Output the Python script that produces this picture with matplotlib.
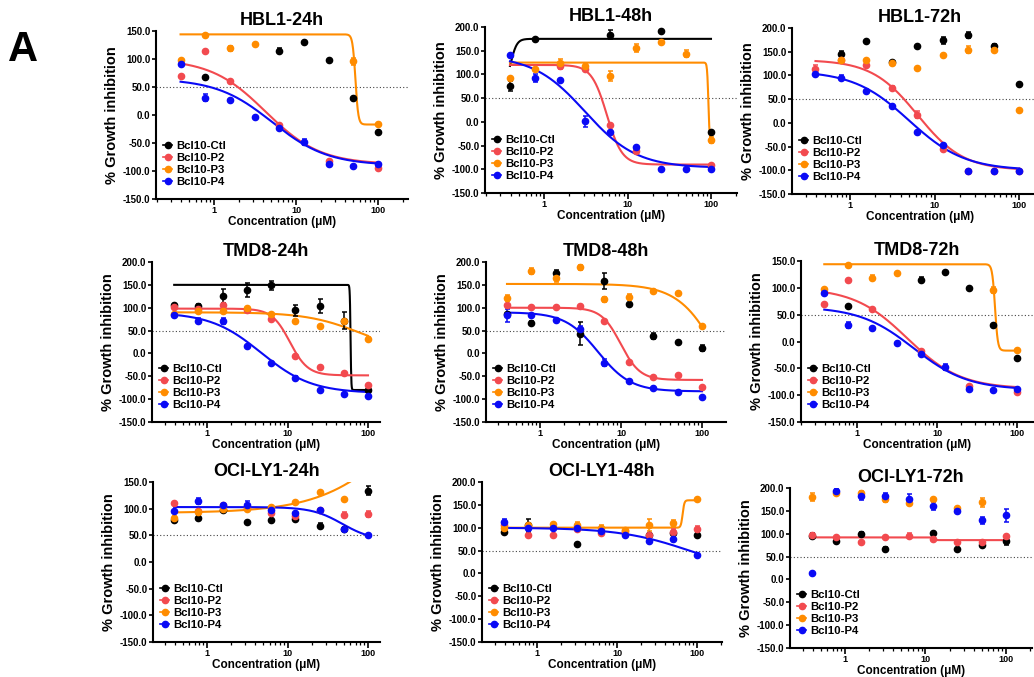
import numpy as np
import matplotlib
matplotlib.use('Agg')
from matplotlib import pyplot as plt
from matplotlib.lines import Line2D
from matplotlib.ticker import FixedLocator, LogLocator, NullFormatter, FormatStrFormatter

plt.rcParams['font.family'] = ['Liberation Sans', 'DejaVu Sans']
plt.rcParams['font.weight'] = 'bold'
plt.rcParams['axes.labelweight'] = 'bold'

nan = np.nan

# concentrations (uM), same for every panel
conc = [0.390625, 0.78125, 1.5625, 3.125, 6.25, 12.5, 25, 50, 100]
names = ['Bcl10-Ctl', 'Bcl10-P2', 'Bcl10-P3', 'Bcl10-P4']
colors = ['#000000', '#f24a4f', '#ff8c00', '#0a0af5']

# values: rows = Ctl, P2, P3, P4 ; fits = (start, end, EC50, hill) or None
hbl1_24h = [[nan, 67, nan, nan, 115, 130, 99, 31, -30],
            [70, 115, 61, nan, -18, nan, -83, nan, -94],
            [98, 142, 119, 127, nan, nan, nan, 96, -16],
            [91, 31, 26, -3, -23, -48, -88, -91, -88]]
hbl1_24h_err = [[0, 0, 0, 0, 5, 0, 0, 0, 0],
                [0, 0, 0, 0, 0, 0, 0, 0, 0],
                [0, 0, 5, 0, 0, 0, 0, 6, 0],
                [0, 6, 0, 0, 0, 6, 3, 0, 0]]
hbl1_24h_fit = [None, (100, -88, 4.25, 1.3), (144, -17, 53, 25), (65, -90, 5.1, 1.28)]

hbl1_48h = [[76, 175, nan, nan, 184, nan, 191, nan, -21],
            [nan, nan, 118, 112, -7, -62, nan, nan, -92],
            [93, 112, 124, 117, 97, 156, 168, 144, -38],
            [140, 92, 89, 1, -21, -52, -99, -99, -99]]
hbl1_48h_err = [[10, 0, 0, 0, 10, 0, 0, 0, 0],
                [0, 0, 6, 0, 0, 0, 0, 0, 0],
                [0, 0, 8, 8, 10, 8, 0, 7, 7],
                [0, 8, 0, 12, 0, 0, 0, 0, 0]]
hbl1_48h_fit = [(75, 175, 0.40, 12), (120, -90, 5.65, 4.75), (125, -40, 93, 60), (140, -97, 3.1, 1.4)]

hbl1_72h = [[nan, 146, 172, 128, 161, 174, 185, 163, 81],
            [114, 132, 123, 73, 17, -56, -102, -102, -102],
            [nan, 133, 133, 126, 116, 144, 154, 153, 28],
            [103, 95, 67, 35, -19, -47, -102, -102, -102]]
hbl1_72h_err = [[0, 5, 0, 0, 0, 8, 7, 4, 0],
                [7, 0, 4, 4, 7, 0, 0, 0, 0],
                [0, 0, 0, 0, 0, 0, 7, 0, 0],
                [0, 5, 0, 0, 0, 0, 0, 0, 0]]
hbl1_72h_fit = [None, (133, -100, 6.3, 1.6), None, (110, -100, 5.0, 1.32)]

tmd8_24h = [[107, 103, 126, 138, 149, 94, 103, 72, -81],
            [102, 98, 107, 96, 76, -6, -30, -43, -70],
            [87, 92, 92, 99, 87, 72, 61, 71, 32],
            [83, 72, 71, 16, -22, -54, -79, -88, -94]]
tmd8_24h_err = [[0, 5, 15, 15, 10, 12, 15, 18, 4],
                [0, 0, 0, 0, 0, 0, 0, 0, 4],
                [0, 0, 0, 0, 0, 0, 0, 0, 5],
                [0, 5, 7, 0, 0, 4, 0, 0, 0]]
tmd8_24h_fit = [(150, -80, 60.7, 100), (98, -48, 10.7, 3.9), (90, 0, 80, 1.3), (90, -87, 4.7, 1.38)]

tmd8_48h = [[87, 67, 176, 43, 158, 108, 38, 26, 12],
            [105, 102, 102, 103, 72, -19, -51, -47, -74],
            [121, 180, 165, 188, 118, 123, 137, 132, 59],
            [83, 85, 74, 53, -20, -60, -76, -85, -96]]
tmd8_48h_err = [[0, 5, 7, 25, 17, 0, 7, 0, 7],
                [0, 0, 0, 0, 0, 0, 0, 0, 0],
                [6, 7, 8, 6, 6, 6, 0, 0, 0],
                [14, 0, 0, 8, 7, 0, 0, 0, 0]]
tmd8_48h_fit = [None, (100, -58, 9.9, 3.65), (152, -200, 182, 1.7), (90, -83, 5.2, 2.15)]

# TMD8-72h shows the same numbers as HBL1-24h
tmd8_72h = hbl1_24h
tmd8_72h_err = hbl1_24h_err
tmd8_72h_fit = hbl1_24h_fit

oci_24h = [[79, 82, 98, 75, 79, 81, 68, 62, 134],
           [110, 95, 106, 101, 92, 87, 98, 89, 90],
           [82, 94, 99, 99, 103, 112, 131, 119, nan],
           [95, 114, 107, 107, 97, 92, 97, 62, 50]]
oci_24h_err = [[4, 4, 0, 0, 0, 0, 5, 4, 9],
               [0, 0, 0, 0, 0, 0, 0, 5, 5],
               [5, 0, 0, 0, 0, 0, 0, 0, 0],
               [0, 6, 0, 8, 0, 0, 0, 0, 0]]
oci_24h_fit = [None, None, (92, 400, 330, 0.85), (103, 40, 48, 2.3)]

oci_48h = [[91, 105, nan, 65, nan, nan, 83, 88, 84],
           [105, 83, 83, 98, 89, 92, 83, 91, 97],
           [100, 107, 109, 105, 100, 94, 106, 110, 162],
           [113, 100, 100, 99, 92, 85, 71, 75, 40]]
oci_48h_err = [[0, 15, 0, 0, 0, 0, 0, 0, 5],
               [0, 0, 0, 0, 0, 0, 0, 6, 6],
               [0, 0, 0, 7, 5, 0, 13, 7, 0],
               [5, 0, 0, 0, 0, 0, 0, 0, 0]]
oci_48h_fit = [None, None, (100, 160, 66, 40), (100, 0, 80, 1.0)]

oci_72h = [[96, 85, 99, 67, nan, 102, 67, 76, 83],
           [98, 92, 82, 93, 96, 89, 82, 82, 96],
           [180, 189, 189, 175, 167, 176, 156, 169, nan],
           [13, 193, 182, 182, 175, 160, 149, 129, 140]]
oci_72h_err = [[6, 0, 5, 4, 0, 0, 0, 0, 8],
               [0, 0, 0, 0, 6, 0, 0, 0, 0],
               [8, 5, 5, 5, 5, 0, 0, 10, 0],
               [0, 6, 8, 8, 12, 9, 0, 8, 14]]
oci_72h_fit = [None, (92, 86, 13, 50), None, None]

titles = ['HBL1-24h', 'HBL1-48h', 'HBL1-72h',
          'TMD8-24h', 'TMD8-48h', 'TMD8-72h',
          'OCI-LY1-24h', 'OCI-LY1-48h', 'OCI-LY1-72h']
ytops = [150, 200, 200, 200, 200, 150, 150, 200, 200]

panels = [(hbl1_24h, hbl1_24h_err, hbl1_24h_fit), (hbl1_48h, hbl1_48h_err, hbl1_48h_fit),
          (hbl1_72h, hbl1_72h_err, hbl1_72h_fit), (tmd8_24h, tmd8_24h_err, tmd8_24h_fit),
          (tmd8_48h, tmd8_48h_err, tmd8_48h_fit), (tmd8_72h, tmd8_72h_err, tmd8_72h_fit),
          (oci_24h, oci_24h_err, oci_24h_fit), (oci_48h, oci_48h_err, oci_48h_fit),
          (oci_72h, oci_72h_err, oci_72h_fit)]

# layout in pixels: left, top, right, bottom of each plot area, and x limits
boxes = [(156, 31, 408, 199), (485, 27, 737, 193), (792, 28, 1048, 194),
         (152, 262, 380, 422), (486, 262, 726, 422), (801, 261, 1033, 422),
         (153, 482, 380, 642), (482, 482, 722, 642), (790, 488, 1032, 648)]
xlims = [(0.196, 232), (0.196, 205), (0.206, 220),
         (0.207, 141), (0.215, 198), (0.2, 158),
         (0.213, 141), (0.205, 205), (0.207, 211)]

W, H = 1034, 677


def dose(x, start, end, ec50, hill):
    return end + (start - end) / (1 + (x / ec50) ** hill)


fig = plt.figure(figsize=(W / 100, H / 100), dpi=100)
fig.text(23 / W, 1 - 50 / H, 'A', fontsize=30, fontweight='bold', ha='center', va='center')

xs = np.logspace(np.log10(conc[0]), np.log10(conc[-1]), 800)

for k in range(9):
    l, t, r, b = boxes[k]
    ax = fig.add_axes([l / W, 1 - b / H, (r - l) / W, (b - t) / H])
    vals, errs, fits = panels[k]

    ax.axhline(50, color='#444444', ls=(0, (1, 2)), lw=0.8, zorder=1)
    for i in range(4):
        ax.errorbar(conc, vals[i], yerr=errs[i], fmt='o', color=colors[i], ms=4.5,
                    elinewidth=1.1, capsize=1.8, capthick=1.1, zorder=3)
        if fits[i] is not None:
            ax.plot(xs, dose(xs, *fits[i]), color=colors[i], lw=1.5, zorder=2)

    ax.set_xscale('log')
    ax.set_xlim(*xlims[k])
    ax.set_ylim(-150, ytops[k])
    ax.yaxis.set_major_locator(FixedLocator(np.arange(-150, ytops[k] + 1, 50)))
    ax.yaxis.set_major_formatter(FormatStrFormatter('%.1f'))
    ax.xaxis.set_major_locator(FixedLocator([1, 10, 100]))
    ax.set_xticklabels(['1', '10', '100'])
    ax.xaxis.set_minor_locator(LogLocator(base=10, subs=np.arange(2, 10)))
    ax.xaxis.set_minor_formatter(NullFormatter())

    for s in ['top', 'right']:
        ax.spines[s].set_visible(False)
    for s in ['left', 'bottom']:
        ax.spines[s].set_linewidth(1.5)
    ax.tick_params(axis='y', direction='out', length=3, width=1.2, pad=1, labelsize=7)
    ax.tick_params(axis='x', which='major', direction='out', length=4, width=1.2, pad=1, labelsize=6.5)
    ax.tick_params(axis='x', which='minor', direction='out', length=2.5, width=0.9)

    ax.set_title(titles[k], fontsize=13, fontweight='bold', pad=4)
    ax.set_ylabel('% Growth inhibition', fontsize=10.5, fontweight='bold', labelpad=3)
    ax.set_xlabel('Concentration (\u03bcM)', fontsize=8.5, fontweight='bold', labelpad=1)

    handles = [Line2D([0], [0], color=c, marker='o', ms=4.5, lw=1.2) for c in colors]
    ax.legend(handles, names, loc='lower left', frameon=False, fontsize=8.2,
              bbox_to_anchor=(7 / (r - l), 12 / (b - t)), borderaxespad=0, borderpad=0,
              handlelength=0.8, handletextpad=0.4, labelspacing=0.18)

fig.savefig('out.png', dpi=100)
